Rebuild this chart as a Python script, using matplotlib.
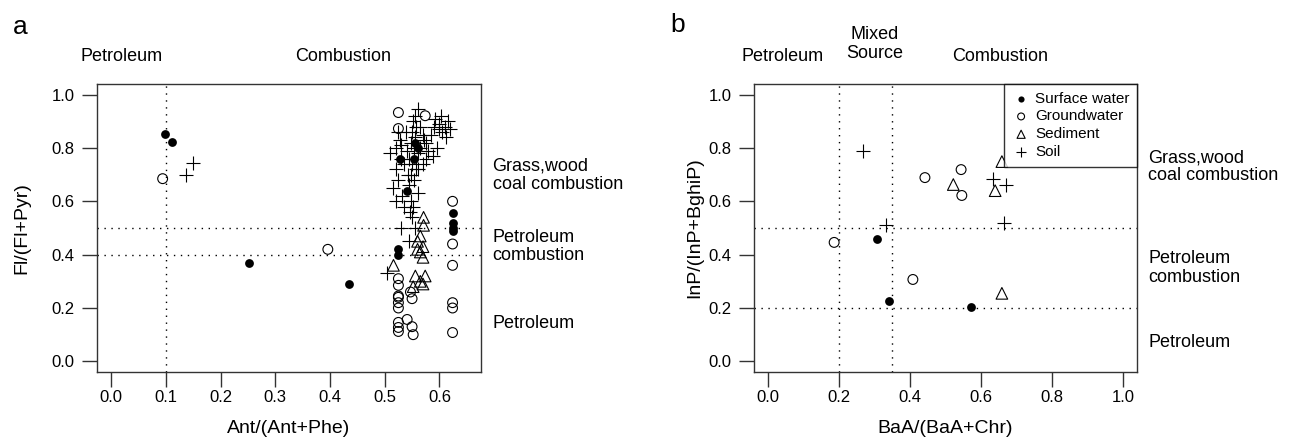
import matplotlib.pyplot as plt

plt.rcParams['font.family'] = ['Liberation Sans', 'DejaVu Sans']

# ---- panel a : Ant/(Ant+Phe) vs Fl/(Fl+Pyr)
a_sw_x = [0.099, 0.112, 0.251, 0.434, 0.528, 0.553, 0.555, 0.560, 0.540, 0.525, 0.525,
          0.624, 0.624, 0.624, 0.624]
a_sw_y = [0.854, 0.824, 0.367, 0.290, 0.760, 0.760, 0.820, 0.800, 0.640, 0.420, 0.400,
          0.555, 0.520, 0.500, 0.490]
a_gw_x = [0.094, 0.396, 0.525, 0.574, 0.525, 0.624, 0.624, 0.624, 0.525, 0.525, 0.525,
          0.547, 0.525, 0.525, 0.525, 0.550, 0.624, 0.624, 0.541, 0.550, 0.552, 0.525,
          0.525, 0.525, 0.624]
a_gw_y = [0.685, 0.420, 0.933, 0.921, 0.873, 0.600, 0.440, 0.360, 0.310, 0.285, 0.245,
          0.260, 0.240, 0.220, 0.200, 0.235, 0.220, 0.200, 0.157, 0.130, 0.100, 0.146,
          0.127, 0.112, 0.108]
a_sd_x = [0.571, 0.571, 0.565, 0.560, 0.570, 0.565, 0.570, 0.560, 0.516, 0.556, 0.574,
          0.565, 0.570, 0.552]
a_sd_y = [0.540, 0.510, 0.470, 0.450, 0.430, 0.410, 0.390, 0.420, 0.360, 0.320, 0.320,
          0.300, 0.290, 0.280]
a_so_x = [0.137, 0.150,
          0.602, 0.590, 0.600, 0.610, 0.620, 0.585, 0.600, 0.615, 0.575, 0.580, 0.595,
          0.561, 0.555, 0.552, 0.558, 0.550, 0.556, 0.548, 0.553, 0.560, 0.545, 0.550,
          0.557, 0.548, 0.553, 0.545, 0.560, 0.548, 0.552, 0.546, 0.550, 0.555, 0.545,
          0.530, 0.525, 0.520, 0.510, 0.530, 0.520, 0.525, 0.515, 0.520, 0.535, 0.505,
          0.530, 0.540, 0.570, 0.565, 0.575, 0.570, 0.589, 0.561,
          0.528, 0.535, 0.542, 0.538, 0.532, 0.565, 0.572, 0.605, 0.612, 0.592]
a_so_y = [0.700, 0.742,
          0.920, 0.880, 0.870, 0.880, 0.870, 0.850, 0.890, 0.900, 0.820, 0.790, 0.800,
          0.947, 0.920, 0.900, 0.880, 0.860, 0.840, 0.820, 0.800, 0.780, 0.760, 0.740,
          0.720, 0.700, 0.680, 0.660, 0.630, 0.600, 0.580, 0.560, 0.540, 0.500, 0.450,
          0.500, 0.860, 0.800, 0.780, 0.760, 0.720, 0.680, 0.650, 0.600, 0.580, 0.330,
          0.810, 0.790, 0.850, 0.880, 0.760, 0.740, 0.770, 0.720,
          0.830, 0.740, 0.700, 0.860, 0.620, 0.800, 0.830, 0.860, 0.840, 0.910]

# ---- panel b : BaA/(BaA+Chr) vs InP/(InP+BghiP)
b_sw_x = [0.307, 0.341, 0.572]
b_sw_y = [0.457, 0.228, 0.202]
b_gw_x = [0.442, 0.544, 0.546, 0.186, 0.408]
b_gw_y = [0.689, 0.719, 0.622, 0.446, 0.307]
b_sd_x = [0.522, 0.659, 0.640, 0.659]
b_sd_y = [0.663, 0.749, 0.640, 0.255]
b_so_x = [0.268, 0.634, 0.670, 0.665, 0.332]
b_so_y = [0.790, 0.682, 0.663, 0.517, 0.513]

groups = ['Surface water', 'Groundwater', 'Sediment', 'Soil']


def draw_points(ax, sw, gw, sd, so):
    ax.scatter(sw[0], sw[1], s=40, marker='o', color='black', linewidths=0,
               label=groups[0], zorder=3)
    ax.scatter(gw[0], gw[1], s=50, marker='o', facecolors='none', edgecolors='black',
               linewidths=0.8, label=groups[1], zorder=3)
    ax.scatter(sd[0], sd[1], s=70, marker='^', facecolors='none', edgecolors='black',
               linewidths=0.8, label=groups[2], zorder=3)
    ax.scatter(so[0], so[1], s=110, marker='+', color='black', linewidths=0.8,
               label=groups[3], zorder=3)


def style(ax, xlim, xticks):
    ax.set_xlim(*xlim)
    ax.set_ylim(-0.04, 1.04)
    ax.set_xticks(xticks)
    ax.set_xticklabels(['%.1f' % t for t in xticks])
    ax.set_yticks([0, 0.2, 0.4, 0.6, 0.8, 1.0])
    ax.set_yticklabels(['0.0', '0.2', '0.4', '0.6', '0.8', '1.0'])
    ax.tick_params(direction='out', length=11, width=1, labelsize=12,
                   color='#333333')
    ax.tick_params(axis='x', pad=2)
    ax.tick_params(axis='y', pad=5)
    for sp in ax.spines.values():
        sp.set_color('#333333')
        sp.set_linewidth(1)


dots = dict(color='black', linewidth=1, linestyle=(0, (1, 4)), zorder=1)

fig = plt.figure(figsize=(12.93, 4.45), dpi=100)

# panel a
ax1 = fig.add_axes([97 / 1293, 73 / 445, 384 / 1293, 288 / 445])
ax1.axvline(0.1, **dots)
ax1.axhline(0.5, **dots)
ax1.axhline(0.4, **dots)
draw_points(ax1, (a_sw_x, a_sw_y), (a_gw_x, a_gw_y), (a_sd_x, a_sd_y), (a_so_x, a_so_y))
style(ax1, (-0.026, 0.676), [0.0, 0.1, 0.2, 0.3, 0.4, 0.5, 0.6])
ax1.set_xlabel('Ant/(Ant+Phe)', fontsize=14, labelpad=11)
ax1.set_ylabel('Fl/(Fl+Pyr)', fontsize=14, labelpad=15)
ax1.text(1.03, 0.697, 'Grass,wood\ncoal combustion', transform=ax1.get_yaxis_transform(),
         fontsize=13, va='center', ha='left', linespacing=1.1)
ax1.text(1.03, 0.43, 'Petroleum\ncombustion', transform=ax1.get_yaxis_transform(),
         fontsize=13, va='center', ha='left', linespacing=1.1)
ax1.text(1.03, 0.14, 'Petroleum', transform=ax1.get_yaxis_transform(),
         fontsize=13, va='center', ha='left')
ax1.text(0.018, 1.095, 'Petroleum', transform=ax1.get_xaxis_transform(),
         fontsize=13, ha='center', va='center')
ax1.text(0.424, 1.095, 'Combustion', transform=ax1.get_xaxis_transform(),
         fontsize=13, ha='center', va='center')
fig.text(20 / 1293, 1 - 27 / 445, 'a', fontsize=19, ha='center', va='center')

# panel b
ax2 = fig.add_axes([754 / 1293, 73 / 445, 383 / 1293, 288 / 445])
ax2.axvline(0.2, **dots)
ax2.axvline(0.35, **dots)
ax2.axhline(0.5, **dots)
ax2.axhline(0.2, **dots)
draw_points(ax2, (b_sw_x, b_sw_y), (b_gw_x, b_gw_y), (b_sd_x, b_sd_y), (b_so_x, b_so_y))
style(ax2, (-0.04, 1.04), [0.0, 0.2, 0.4, 0.6, 0.8, 1.0])
ax2.set_xlabel('BaA/(BaA+Chr)', fontsize=14, labelpad=11)
ax2.set_ylabel('InP/(InP+BghiP)', fontsize=14, labelpad=4)
ax2.text(1.03, 0.73, 'Grass,wood\ncoal combustion', transform=ax2.get_yaxis_transform(),
         fontsize=13, va='center', ha='left', linespacing=1.1)
ax2.text(1.03, 0.35, 'Petroleum\ncombustion', transform=ax2.get_yaxis_transform(),
         fontsize=13, va='center', ha='left', linespacing=1.1)
ax2.text(1.03, 0.07, 'Petroleum', transform=ax2.get_yaxis_transform(),
         fontsize=13, va='center', ha='left')
ax2.text(0.04, 1.095, 'Petroleum', transform=ax2.get_xaxis_transform(),
         fontsize=13, ha='center', va='center')
ax2.text(0.30, 1.14, 'Mixed\nSource', transform=ax2.get_xaxis_transform(),
         fontsize=13, ha='center', va='center', linespacing=1.15)
ax2.text(0.655, 1.095, 'Combustion', transform=ax2.get_xaxis_transform(),
         fontsize=13, ha='center', va='center')
fig.text(678 / 1293, 1 - 25 / 445, 'b', fontsize=19, ha='center', va='center')

leg = ax2.legend(loc='upper right', fontsize=11, frameon=True, fancybox=False,
                 borderaxespad=0, handletextpad=0.3, handlelength=1.2,
                 labelspacing=0.25, borderpad=0.5, markerscale=0.7)
leg.get_frame().set_edgecolor('black')
leg.get_frame().set_linewidth(1)

fig.savefig('out.png', dpi=100)
